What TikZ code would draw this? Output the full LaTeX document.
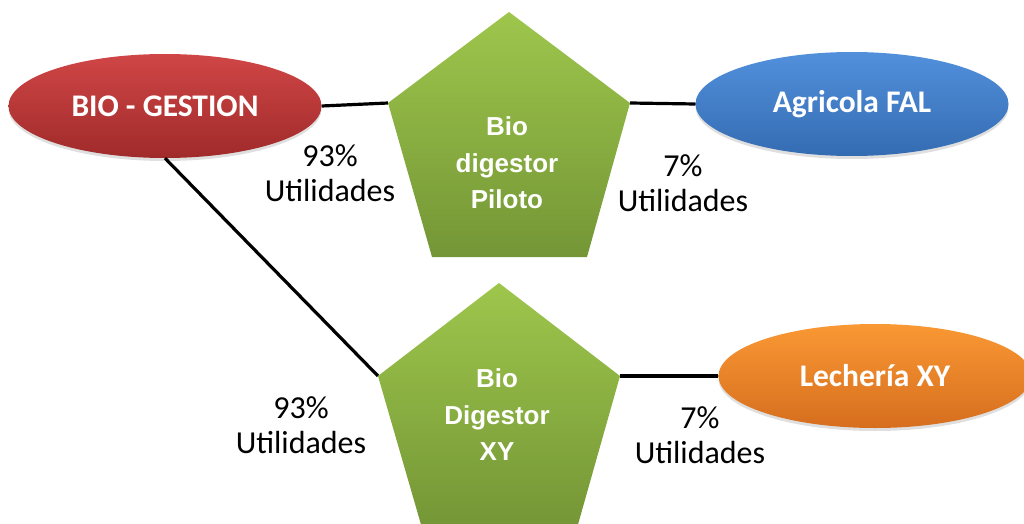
\documentclass[tikz,border=0pt]{standalone}
\usepackage{fontspec}
\setmainfont{Carlito}
\newfontfamily\pentfont{Liberation Sans}
\usetikzlibrary{shapes.geometric,shadows}
\definecolor{redT}{RGB}{208,70,70}
\definecolor{redB}{RGB}{160,42,42}
\definecolor{blueT}{RGB}{82,144,220}
\definecolor{blueB}{RGB}{52,108,178}
\definecolor{orgT}{RGB}{250,152,52}
\definecolor{orgB}{RGB}{214,110,30}
\definecolor{grnT}{RGB}{158,198,76}
\definecolor{grnB}{RGB}{116,150,54}
\begin{document}
\begin{tikzpicture}[x=1pt,y=-1pt,
  ell/.style={ellipse,minimum width=313pt,minimum height=104pt,inner sep=0pt,
    text=white,font=\fontsize{31.5}{36}\selectfont\bfseries,
    drop shadow={opacity=0.25,shadow xshift=0pt,shadow yshift=-3pt}},
  pent/.style={top color=grnT,bottom color=grnB},
  penttext/.style={align=center,text=white,font=\pentfont\fontsize{26}{36.5}\selectfont\bfseries},
  lbl/.style={align=center,text=black,font=\fontsize{32}{34.5}\selectfont},
  conn/.style={line width=3.2pt,black}]
\useasboundingbox (0,0) rectangle (1024,524);
\clip (0,0) rectangle (1024,524);
% top pentagon
\coordinate (p1a) at (509,12);
\coordinate (p1l) at (388,103);
\coordinate (p1r) at (630,103);
\coordinate (p1bl) at (432,257);
\coordinate (p1br) at (587,257);
% bottom pentagon
\coordinate (p2a) at (499,283);
\coordinate (p2l) at (378,376);
\coordinate (p2r) at (620,376);
\coordinate (p2bl) at (422,528);
\coordinate (p2br) at (577,528);
% ellipses
\node[ell,top color=redT,bottom color=redB] (gest) at (165,106) {BIO - GESTION};
\node[ell,top color=blueT,bottom color=blueB] (fal) at (852,104) {Agricola FAL};
\node[ell,top color=orgT,bottom color=orgB] (lech) at (875,376) {Lechería XY};
% connectors
\draw[conn] (gest.east) -- (p1l);
\draw[conn] (p1r) -- (fal.west);
\draw[conn] (gest.south) -- (p2l);
\draw[conn] (p2r) -- (lech.west);
% pentagons
\shade[pent] (p1a) -- (p1r) -- (p1br) -- (p1bl) -- (p1l) -- cycle;
\shade[pent] (p2a) -- (p2r) -- (p2br) -- (p2bl) -- (p2l) -- cycle;
\node[penttext] (t1) at (507,163) {Bio\\digestor\\Piloto};
\node[penttext] (t2) at (497,415) {Bio\\Digestor\\XY};
% labels
\node[lbl] (l1) at (330,173) {93\%\\Utilidades};
\node[lbl] (l2) at (683,183) {7\%\\Utilidades};
\node[lbl] (l3) at (301,425) {93\%\\Utilidades};
\node[lbl] (l4) at (700,435) {7\%\\Utilidades};
\end{tikzpicture}
\end{document}
